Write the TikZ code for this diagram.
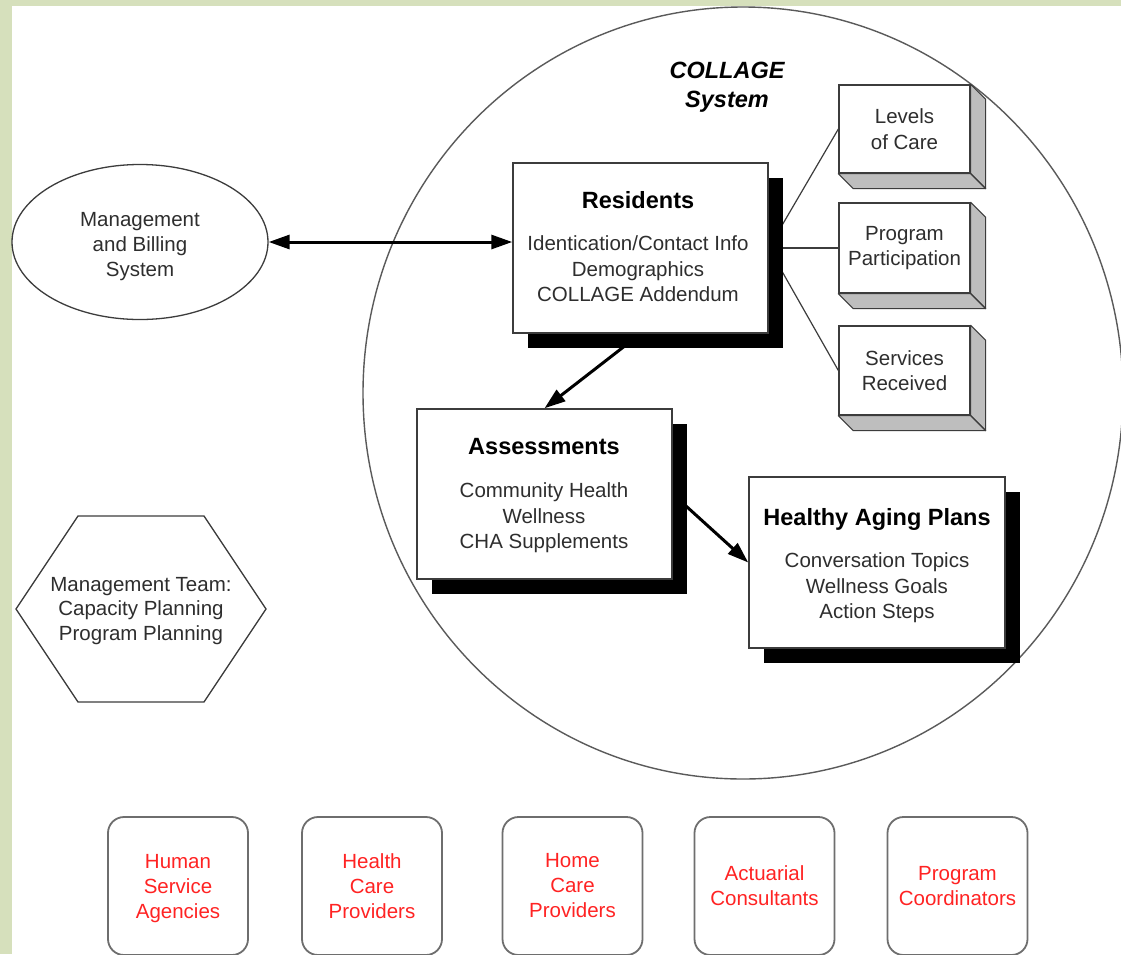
\documentclass[tikz,border=0pt]{standalone}
\usepackage{fontspec}
\setmainfont{Liberation Sans}
\usetikzlibrary{arrows.meta,shadows,shapes.geometric,backgrounds}
\definecolor{bggreen}{RGB}{214,224,188}
\definecolor{edgegray}{RGB}{60,60,60}
\definecolor{facegray}{RGB}{190,190,190}
\definecolor{circgray}{RGB}{90,90,90}
\definecolor{agencyred}{RGB}{255,35,35}
\definecolor{roundgray}{RGB}{110,110,110}
\tikzset{
  bodytext/.style={font=\fontsize{20.5}{25.5}\selectfont, text=black!82, align=center, inner sep=0pt},
  titletext/.style={font=\fontsize{23.5}{28}\selectfont\bfseries, text=black, inner sep=0pt},
  shadowbox/.style={draw=edgegray, line width=1.5pt, fill=white, inner sep=0pt,
    drop shadow={shadow xshift=15pt, shadow yshift=-15pt, fill=black, opacity=1}},
  cubebox/.style={draw=edgegray, line width=1.3pt, fill=white, inner sep=0pt, minimum width=131pt,
    align=center, font=\fontsize{20.5}{25.5}\selectfont, text=black!82},
  cubeface/.style={draw=edgegray, line width=1.1pt, fill=facegray, line join=round},
  agency/.style={draw=roundgray, line width=1.8pt, rounded corners=16pt, minimum width=140pt,
    minimum height=138pt, inner sep=0pt, align=center, font=\fontsize{20.5}{25}\selectfont, text=agencyred},
  bigarrow/.style={line width=3pt, -{Triangle[length=21pt,width=14pt]}},
  dblarrow/.style={line width=3pt, {Triangle[length=21pt,width=14pt]}-{Triangle[length=21pt,width=14pt]}},
  thinline/.style={draw=edgegray, line width=1.2pt},
  hexline/.style={draw=edgegray, line width=1.3pt, line join=miter},
}
\begin{document}
\begin{tikzpicture}[x=1pt,y=-1pt]
\useasboundingbox (0,0) rectangle (1121,954);

% management and billing system
\node[ellipse, draw=edgegray, line width=1.3pt, minimum width=256pt, minimum height=155pt, inner sep=0pt] (mbs) at (140,242) {};
\node[bodytext, font=\fontsize{20.5}{25}\selectfont] (mbsT) at (140,247) {Management\\and Billing\\System};

% title
\node[font=\fontsize{23.5}{29}\selectfont\bfseries\itshape, align=center, inner sep=0pt] (title) at (727,87) {COLLAGE\\System};

% residents
\node[shadowbox, minimum width=255pt, minimum height=170pt] (res) at (640.5,248) {};
\node[titletext] (resT) at (638,200) {Residents};
\node[bodytext] (resB) at (638,269) {Identication/Contact Info\\Demographics\\COLLAGE Addendum};

% assessments
\node[shadowbox, minimum width=255pt, minimum height=170pt] (ass) at (544.5,494) {};
\node[titletext] (assT) at (544,447) {Assessments};
\node[bodytext] (assB) at (544,518) {Community Health\\Wellness\\CHA Supplements};

% healthy aging plans
\node[shadowbox, minimum width=256pt, minimum height=171pt] (hap) at (877,562.5) {};
\node[titletext] (hapT) at (877,519) {Healthy Aging Plans};
\node[bodytext] (hapB) at (877,588) {Conversation Topics\\Wellness Goals\\Action Steps};

% cubes
\node[cubebox, minimum height=88pt] (lev) at (904.5,129) {Levels\\of Care};
\node[cubebox, minimum height=90pt] (prog) at (904.5,248) {Program\\Participation};
\node[cubebox, minimum height=89pt] (serv) at (904.5,370.5) {Services\\Received};
\foreach \n in {lev,prog,serv}{
  \filldraw[cubeface] (\n.north east) -- ++(15,15) -- ([shift={(15,15)}]\n.south east) -- (\n.south east) -- cycle;
  \filldraw[cubeface] (\n.south west) -- (\n.south east) -- ([shift={(15,15)}]\n.south east) -- ([shift={(15,15)}]\n.south west) -- cycle;
}

% hexagon
\draw[hexline] (78,516) -- (204,516) -- (266,609) -- (204,702) -- (78,702) -- (16,609) -- cycle;
\node[bodytext, font=\fontsize{20.5}{24.5}\selectfont] (mgmt) at (141,611) {Management Team:\\Capacity Planning\\Program Planning};

% agencies
\node[agency] (ag1) at (178,886) {Human\\Service\\\raisebox{0pt}[\height][0pt]{Agencies}};
\node[agency] (ag2) at (372,886) {Health\\Care\\Providers};
\node[agency] (ag3) at (572.5,886) {Home\\Care\\Providers};
\node[agency] (ag4) at (764.5,886) {Actuarial\\Consultants};
\node[agency] (ag5) at (957.5,886) {Program\\Coordinators};

\begin{scope}[on background layer]
  \fill[bggreen] (0,0) rectangle (1121,954);
  \fill[white] (12,6) rectangle (1121,954);
  \draw[circgray, line width=1.4pt] (743,393) ellipse [x radius=380, y radius=386];
  \draw[dblarrow] (mbs.east) -- (res.west |- mbs.east);
  \draw[bigarrow] (res.south) -- (ass.north);
  \draw[bigarrow] (ass.east) -- (hap.west);
  \draw[thinline] (res.east) -- (lev.west);
  \draw[thinline] (res.east) -- (prog.west);
  \draw[thinline] (res.east) -- (serv.west);
\end{scope}
\end{tikzpicture}
\end{document}
